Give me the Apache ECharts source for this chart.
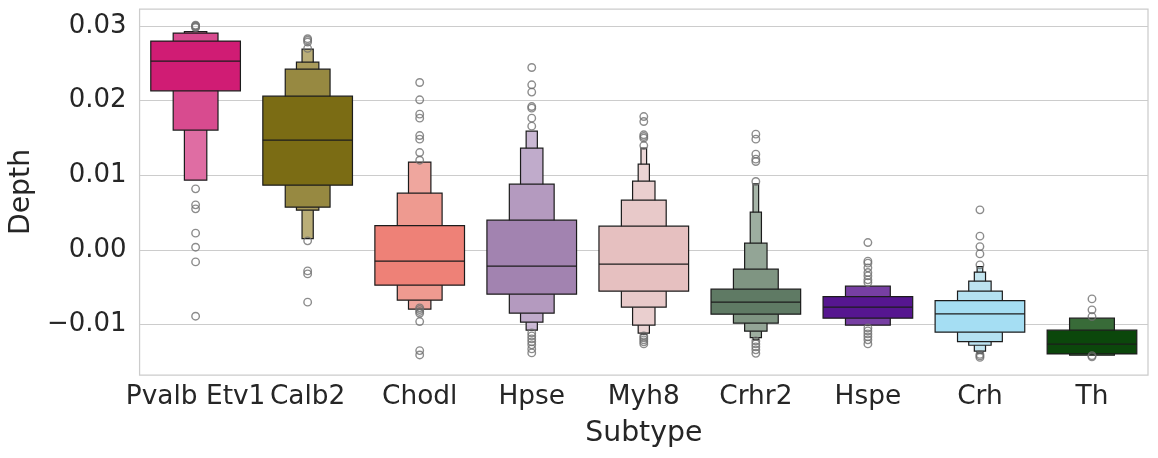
<!DOCTYPE html>
<html><head><meta charset="utf-8">
<script src="https://cdn.jsdelivr.net/npm/echarts@6/dist/echarts.min.js"></script>
<style>html,body{margin:0;padding:0;background:#fff}#c{width:1158px;height:458px}</style>
</head><body><div id="c"></div>
<script>
const categories = ['Pvalb Etv1','Calb2','Chodl','Hpse','Myh8','Crhr2','Hspe','Crh','Th'];
const medians = [0.02529, 0.01470, -0.00151, -0.00218, -0.00192, -0.00701, -0.00768, -0.00858, -0.01264];
const levelLow = [
  [0.02131, 0.01605, 0.00934],
  [0.00867, 0.00572, 0.00532, 0.00151],
  [-0.00473, -0.00674, -0.00795],
  [-0.00594, -0.00849, -0.00969, -0.01076],
  [-0.00554, -0.00768, -0.01009, -0.01117, -0.01133],
  [-0.00862, -0.00983, -0.01090, -0.01176, -0.01206],
  [-0.00916, -0.01009],
  [-0.01103, -0.01229, -0.01278, -0.01358, -0.01385],
  [-0.01394, -0.01412]
];
const levelHigh = [
  [0.02798, 0.02905, 0.02926],
  [0.02060, 0.02422, 0.02516, 0.02690],
  [0.00326, 0.00760, 0.01176],
  [0.00398, 0.00881, 0.01363, 0.01591],
  [0.00318, 0.00666, 0.00921, 0.01149, 0.01363],
  [-0.00527, -0.00259, 0.00090, 0.00505, 0.00885],
  [-0.00626, -0.00487],
  [-0.00680, -0.00554, -0.00420, -0.00299, -0.00224],
  [-0.01076, -0.00916]
];
const outliers = [
  [0.0301, 0.0300, 0.0299, 0.0298, 0.00818, 0.00603, 0.00550, 0.00224, 0.00036, -0.00161, -0.00889],
  [0.02830, 0.02810, 0.02785, 0.02700, 0.00121, -0.00282, -0.00322, -0.00701],
  [0.02243, 0.02011, 0.01819, 0.01765, 0.01532, 0.01484, 0.01304, 0.01202, -0.00777, -0.00800, -0.00825, -0.00850, -0.00961, -0.01350, -0.01408],
  [0.02444, 0.02212, 0.02114, 0.01921, 0.01899, 0.01765, 0.01658, -0.01113, -0.01153, -0.01193, -0.01233, -0.01273, -0.01327, -0.01381],
  [0.01787, 0.01720, 0.01542, 0.01519, 0.01497, 0.01398, -0.01153, -0.01180, -0.01206, -0.01233, -0.01260],
  [0.01551, 0.01484, 0.01283, 0.01216, 0.01184, 0.00916, -0.01220, -0.01260, -0.01300, -0.01340, -0.01387],
  [0.00098, -0.00151, -0.00178, -0.00241, -0.00304, -0.00349, -0.00402, -0.00438, -0.01046, -0.01086, -0.01126, -0.01166, -0.01206, -0.01260],
  [0.00536, 0.00184, 0.00044, -0.00054, -0.00201, -0.01401, -0.01421, -0.01441],
  [-0.00657, -0.00804, -0.00894, -0.01418, -0.01434]
];
const yTicks = [-0.01, 0, 0.01, 0.02, 0.03];

const levelColors = [
  ['#D01C74', '#D84B8F', '#DF6DA3'],
  ['#7B6C14', '#978941', '#A99B5B', '#BAAE78'],
  ['#EE8177', '#EE9A90', '#EFA69E'],
  ['#A283B0', '#B49ABF', '#C0ABCB', '#CAB8D4'],
  ['#E6C0C0', '#E8C9C9', '#EACFCF', '#EBD4D4', '#ECD8D8'],
  ['#5F7A64', '#7F9582', '#93A596', '#9DAEA0', '#A7B6A9'],
  ['#561690', '#773FA3'],
  ['#A5DEF3', '#B4E1F1', '#BDE3F0', '#C3E5EF', '#C7E6EF'],
  ['#0B470B', '#386B38']
];

const boxData = [];
categories.forEach((c, i) => {
  for (let k = levelLow[i].length - 1; k >= 0; k--) {
    boxData.push([i, k, levelLow[i][k], levelHigh[i][k], medians[i]]);
  }
});
const outData = [];
outliers.forEach((arr, i) => arr.forEach(v => outData.push([i, v])));

const chart = echarts.init(document.getElementById('c'), null, {renderer: 'canvas'});
const FONT = 'DejaVu Sans';
chart.setOption({
  animation: false,
  grid: {left: 136, right: 10, top: 9, bottom: 83, show: true, borderColor: '#cccccc', borderWidth: 1.25, backgroundColor: '#fff'},
  xAxis: {
    type: 'category', data: categories, boundaryGap: true,
    name: 'Subtype', nameLocation: 'middle', nameGap: 45,
    nameTextStyle: {fontFamily: FONT, fontSize: 28.3, color: '#262626'},
    axisLine: {show: false}, axisTick: {show: false}, splitLine: {show: false},
    axisLabel: {fontFamily: FONT, fontSize: 26.4, color: '#262626', margin: 9, interval: 0}
  },
  yAxis: {
    type: 'value', min: -0.01677, max: 0.03228,
    name: 'Depth', nameLocation: 'middle', nameGap: 96,
    nameTextStyle: {fontFamily: FONT, fontSize: 28.3, color: '#262626'},
    axisLine: {show: false},
    axisTick: {show: false, customValues: yTicks},
    splitLine: {show: true, lineStyle: {color: '#cccccc', width: 1.2}},
    axisLabel: {
      customValues: yTicks, fontFamily: FONT, fontSize: 26, color: '#262626', margin: 13,
      formatter: v => (v < -1e-9 ? '\u2212' + Math.abs(v).toFixed(2) : Math.abs(v).toFixed(2))
    }
  },
  series: [
    {
      type: 'custom',
      data: boxData,
      encode: {x: 0, y: [2, 3]},
      renderItem: (params, api) => {
        const i = api.value(0), k = api.value(1);
        const lo = api.coord([i, api.value(2)]);
        const hi = api.coord([i, api.value(3)]);
        const band = api.size([1, 0])[0];
        const w = band * 0.8 / Math.pow(2, k);
        const children = [{
          type: 'rect',
          shape: {x: lo[0] - w / 2, y: hi[1], width: w, height: lo[1] - hi[1]},
          style: {fill: levelColors[i][k], stroke: '#1c1c1c', lineWidth: 1.2}
        }];
        if (k === 0) {
          const m = api.coord([i, api.value(4)]);
          children.push({
            type: 'line',
            shape: {x1: lo[0] - w / 2, y1: m[1], x2: lo[0] + w / 2, y2: m[1]},
            style: {stroke: '#1c1c1c', lineWidth: 1.2}
          });
        }
        return {type: 'group', children};
      },
      z: 2
    },
    {
      type: 'scatter',
      data: outData,
      symbol: 'circle',
      symbolSize: 7.5,
      itemStyle: {color: 'rgba(0,0,0,0)', borderColor: '#6f6f6f', borderWidth: 1.4},
      z: 3
    }
  ]
});
</script></body></html>
